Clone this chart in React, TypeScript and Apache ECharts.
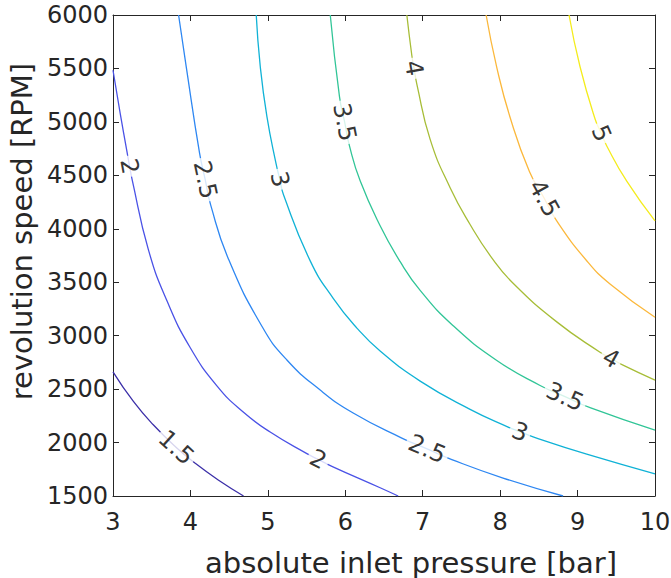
import React, { useEffect, useRef } from "react";
import * as echarts from "echarts";

const levels = [1.5, 2, 2.5, 3, 3.5, 4, 4.5, 5];
const levelColors = ["#3b2fa8", "#4a52e6", "#2e87f2", "#10b2d6", "#31c597", "#a7bd37", "#fbb83c", "#f4ec1c"];

const xTicks = [3, 4, 5, 6, 7, 8, 9, 10];
const yTicks = [1500, 2000, 2500, 3000, 3500, 4000, 4500, 5000, 5500, 6000];

const c15 = [[3.0, 2662], [3.266, 2382], [3.52, 2166], [3.817, 1954], [4.062, 1806], [4.359, 1650], [4.686, 1500]];
const c20 = [[3.0, 5483], [3.094, 5074], [3.181, 4719], [3.214, 4585], [3.245, 4467], [3.456, 3807], [3.701, 3319], [3.998, 2887], [4.342, 2531], [4.682, 2285], [5.03, 2098], [5.504, 1896], [5.65, 1843], [5.827, 1778], [6.45, 1577], [6.683, 1500]];
const c25 = [[3.847, 6000], [3.946, 5514], [4.118, 4707], [4.191, 4459], [4.262, 4221], [4.492, 3716], [4.927, 3083], [5.246, 2772], [5.676, 2491], [6.102, 2276], [6.73, 2042], [7.057, 1940], [7.376, 1841], [8.038, 1668], [8.813, 1500]];
const c30 = [[4.85, 6000], [4.901, 5525], [4.988, 5049], [5.108, 4602], [5.154, 4464], [5.202, 4318], [5.547, 3700], [5.844, 3349], [6.15, 3071], [6.45, 2857], [6.967, 2575], [7.612, 2311], [8.103, 2145], [8.258, 2101], [8.426, 2053], [9.118, 1891], [10.0, 1708]];
const c35 = [[5.806, 6000], [5.925, 5236], [5.992, 4997], [6.054, 4776], [6.192, 4449], [6.45, 4029], [6.709, 3692], [6.967, 3424], [7.393, 3093], [7.957, 2768], [8.516, 2534], [8.838, 2429], [9.161, 2326], [10.0, 2116]];
const c40 = [[6.795, 6000], [6.86, 5619], [6.888, 5502], [6.924, 5354], [7.096, 4836], [7.354, 4384], [7.612, 4040], [7.892, 3728], [8.167, 3491], [8.731, 3129], [9.29, 2845], [9.432, 2787], [9.587, 2724], [10.0, 2584]];
const c45 = [[7.819, 6000], [7.957, 5508], [8.128, 5044], [8.378, 4535], [8.569, 4286], [8.731, 4073], [9.118, 3701], [9.419, 3483], [10.0, 3172]];
const c50 = [[8.89, 6000], [9.032, 5516], [9.226, 5027], [9.306, 4894], [9.377, 4775], [9.635, 4445], [10.0, 4074]];

const curves = [c15, c20, c25, c30, c35, c40, c45, c50];

// [level, x, y] of inline contour labels
const contourLabels = [
  [1.5, 3.817, 1954],
  [2, 3.214, 4585],
  [2, 5.65, 1843],
  [2.5, 4.191, 4459],
  [2.5, 7.057, 1940],
  [3, 5.154, 4464],
  [3, 8.258, 2101],
  [3.5, 5.992, 4997],
  [3.5, 8.838, 2429],
  [4, 6.888, 5502],
  [4, 9.432, 2787],
  [4.5, 8.569, 4286],
  [5, 9.306, 4894],
];

const FONT = "DejaVu Sans";
const AX = "#262626";

function buildOption(rot: number[]) {
  const axisCommon = {
    axisLine: { show: true, lineStyle: { color: AX, width: 1 } },
    axisTick: { show: true, inside: true, length: 6, lineStyle: { color: AX, width: 1 } },
    splitLine: { show: false },
  };
  return {
    animation: false,
    backgroundColor: "#ffffff",
    grid: { left: 113, right: 16, top: 15, bottom: 82, containLabel: false, outerBoundsMode: "none" },
    xAxis: [
      {
        type: "value", min: xTicks[0], max: xTicks[xTicks.length - 1], interval: 1, position: "bottom",
        ...axisCommon,
        axisLabel: { color: AX, fontSize: 24, fontFamily: FONT, margin: 14 },
        name: "absolute inlet pressure [bar]", nameLocation: "middle", nameGap: 52,
        nameTextStyle: { color: AX, fontSize: 29, fontFamily: FONT, padding: [0, 0, 0, 54] },
      },
      {
        type: "value", min: xTicks[0], max: xTicks[xTicks.length - 1], interval: 1, position: "top",
        ...axisCommon, axisLabel: { show: false },
      },
    ],
    yAxis: [
      {
        type: "value", min: yTicks[0], max: yTicks[yTicks.length - 1], interval: 500, position: "left",
        ...axisCommon,
        axisLabel: { color: AX, fontSize: 24, fontFamily: FONT, margin: 5, formatter: (v: number) => String(v) },
        name: "revolution speed [RPM]", nameLocation: "middle", nameGap: 70,
        nameTextStyle: { color: AX, fontSize: 29, fontFamily: FONT, padding: [0, 0, 0, 48] },
      },
      {
        type: "value", min: yTicks[0], max: yTicks[yTicks.length - 1], interval: 500, position: "right",
        ...axisCommon, axisLabel: { show: false },
      },
    ],
    series: [
      ...curves.map((c, i) => ({
        type: "line",
        name: String(levels[i]),
        data: c,
        smooth: 0.5,
        showSymbol: false,
        symbol: "none",
        clip: true,
        silent: true,
        z: 2,
        lineStyle: { color: levelColors[i], width: 1.3 },
      })),
      {
        type: "scatter",
        silent: true,
        z: 5,
        symbol: "circle",
        symbolSize: 1,
        itemStyle: { color: "rgba(0,0,0,0)" },
        data: contourLabels.map(([lv, x, y], i) => ({
          value: [x, y],
          label: {
            show: true,
            position: "inside",
            formatter: String(lv),
            rotate: rot[i] || 0,
            color: "#000000",
            fontSize: 24,
            fontFamily: FONT,
            backgroundColor: "#ffffff",
            padding: [0, 3, 0, 3],
            align: "center",
            verticalAlign: "middle",
          },
        })),
      },
    ],
  };
}

export default function App() {
  const ref = useRef<HTMLDivElement>(null);
  useEffect(() => {
    if (!ref.current) return;
    const chart = echarts.init(ref.current, null, { renderer: "svg" });
    chart.setOption(buildOption(contourLabels.map(() => 0)) as any);
    const rot = contourLabels.map(([lv, x, y]) => {
      const ci = levels.indexOf(lv);
      const curve = curves[ci];
      const p0 = chart.convertToPixel({ seriesIndex: 0 }, [x, y]) as number[];
      let best = 0;
      let bd = Infinity;
      curve.forEach((p, i) => {
        const q = chart.convertToPixel({ seriesIndex: 0 }, p) as number[];
        const d = Math.hypot(q[0] - p0[0], q[1] - p0[1]);
        if (d < bd) { bd = d; best = i; }
      });
      const a = chart.convertToPixel({ seriesIndex: 0 }, curve[Math.max(0, best - 1)]) as number[];
      const b = chart.convertToPixel({ seriesIndex: 0 }, curve[Math.min(curve.length - 1, best + 1)]) as number[];
      let ang = (Math.atan2(b[1] - a[1], b[0] - a[0]) * 180) / Math.PI;
      if (ang > 90) ang -= 180;
      if (ang < -90) ang += 180;
      return -ang;
    });
    chart.setOption(buildOption(rot) as any);
    return () => chart.dispose();
  }, []);
  return (
    <div
      ref={ref}
      style={{ position: "absolute", left: 0, top: 0, width: 671, height: 578 }}
    />
  );
}
